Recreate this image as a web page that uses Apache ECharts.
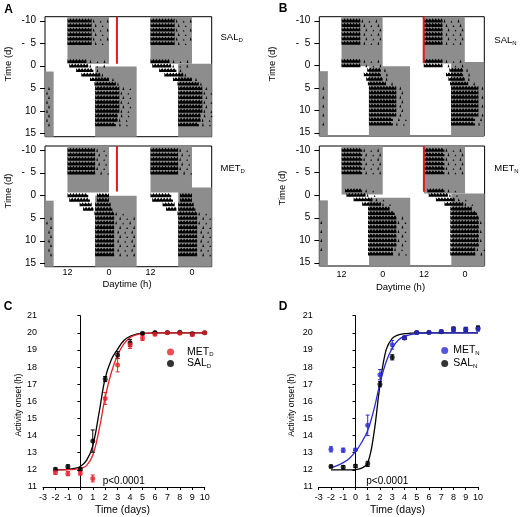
<!DOCTYPE html>
<html><head><meta charset="utf-8">
<script src="https://cdn.jsdelivr.net/npm/echarts@6/dist/echarts.min.js"></script>
<style>html,body{margin:0;padding:0;background:#fff}#c{width:523px;height:517px}</style>
</head><body><div id="c"></div>
<script>
// ---------- Actogram data (hours on a double-plotted axis, "12" = 0, "0" = 12) ----------
const actoDays = [-10,-9,-8,-7,-6,-5,-4,-3,-2,-1,0,1,2,3,4,5,6,7,8,9,10,11,12,13,14,15];
const actoTicks = [-10,-5,0,5,10,15];
const hourTicks = [0,12,24,36];
const hourLabels = ['12','0','12','0'];

const salD_on   = [0,0,0,0,0,0,null,null,null,0,0.5,2.5,4,6.5,7.8,8,8,8,8,8,8,8,8,8,null,null];
const salD_off  = [7,7,7,7,7,7,null,null,null,5.5,6,7.5,9.5,12,14,15,15,15,15,15,15,14.5,14.5,14,null,null];
const salD_tail = [12,12,12,12,12,12,null,null,null,12,12,10,12,14,16,19,19,19,19,19,19,19,19,19,null,null];

const metD_on   = [0,0,0,0,0,0,null,null,null,null,0,0.5,3.5,4.5,7.8,8,8,8,8,8,8,8,8,8,null,null];
const metD_off  = [8,8,8,8,8,8,null,null,null,null,6,6.5,7,7.5,13.5,13.5,13.5,13.5,13.5,13.5,13.5,13.5,13.5,13.5,null,null];
const metD_on2  = [null,null,null,null,null,null,null,null,null,null,8.5,8.5,8,8,null,null,null,null,null,null,null,null,null,null,null,null];
const metD_off2 = [null,null,null,null,null,null,null,null,null,null,12,12,12.5,13,null,null,null,null,null,null,null,null,null,null,null,null];
const metD_tail = [12,12,12,12,12,12,null,null,null,null,12,12,12.5,13,18,20,20,20,20,20,20,20,20,20,null,null];

const salN_on   = [0,0,0,0,0,0,null,null,null,0,0,7.5,6.5,7.2,7.7,8,8,8,8,8,8,8,8,8,null,null];
const salN_off  = [5.5,5.5,5.5,5.5,5.5,5.5,null,null,null,5.5,5.5,11.5,11.5,12,13,16,16,16,16,16,16,16,15,15,null,null];
const salN_tail = [12,12,12,12,12,12,null,null,null,12,12,14,14,14,15,19,19,19,19,19,19,19,19,19,null,null];

const metN_on   = [0,0,0,0,0,0,null,null,null,1,1.4,3.5,6,7.7,7.7,7.7,7.7,7.7,7.7,7.7,7.7,7.7,7.7,7.7,null,null];
const metN_off  = [6,6,6,6,6,6,null,null,null,6,7,9,11.5,14,15.5,16,16,16,16,16,16,16,15,15,null,null];
const metN_tail = [12,12,12,12,12,12,null,null,null,11,11,14,15,15,16,19,19,19,19,19,19,19,19,19,null,null];

// dark (grey) periods: [hourStart, hourEnd, dayStart, dayEnd]
const salD_dark = [[0,12,-10.85,-0.4],[24,36,-10.85,-0.4],[8,20,0.2,15.75],[-6.5,-4,1.3,15.75],[32,41.7,-0.4,15.75]];
const metD_dark = [[0,12,-10.85,-0.6],[24,36,-10.85,-0.6],[8,20,0.1,15.75],[-6.5,-4,1.2,15.75],[32,41.7,-1.7,15.75]];
const salN_dark = [[0,12,-10.85,0.2],[24,36,-10.85,-0.4],[8,20,0.2,15.75],[-6.5,-4,1.3,15.75],[32,41.7,-0.75,15.75]];
const metN_dark = [[0,12,-10.85,-0.1],[24,36,-10.85,-0.3],[8,20,0.6,15.75],[-6.5,-4,1.2,15.75],[32,41.7,-0.3,15.75]];

// injection marker (hour, dayTop, dayBottom)
const salD_mark = [14.3,-10.85,-0.4];
const metD_mark = [14.3,-10.85,-0.8];
const salN_mark = [24,-10.85,-0.5];
const metN_mark = [24,-10.85,-0.7];

// ---------- Activity onset data ----------
const onsetDays = [-2,-1,0,1,2,3,4,5,6,7,8,9,10];
const metD = [11.84,11.78,11.8,11.5,16.17,18.12,19.29,19.7,19.91,20.0,19.97,19.9,20.0];
const metDErr = [0.1,0.12,0.1,0.2,0.35,0.4,0.2,0.15,0.08,0.05,0.05,0.1,0.05];
const salD = [12.03,12.19,12.03,13.68,17.3,18.7,19.4,19.97,20.02,20.02,20.03,19.95,20.0];
const salDErr = [0.08,0.1,0.08,0.65,0.15,0.2,0.2,0.05,0.05,0.05,0.05,0.08,0.03];

const metN = [13.2,13.15,13.18,14.6,17.56,19.3,19.72,20.02,20.03,20.08,20.2,20.2,20.22];
const metNErr = [0.15,0.12,0.05,0.6,0.3,0.25,0.1,0.05,0.05,0.08,0.12,0.12,0.12];
const salN = [12.2,12.15,12.23,12.35,17.0,18.57,19.7,20.02,20.02,20.06,20.22,20.2,20.28];
const salNErr = [0.08,0.1,0.08,0.15,0.15,0.15,0.08,0.04,0.04,0.08,0.12,0.12,0.12];

const fitX = [-2,-1.5,-1,-0.5,0,0.5,1,1.5,2,2.5,3,3.5,4,4.5,5,6,7,8,9,10];
const fitSalD = [12.0,12.01,12.03,12.08,12.2,12.55,13.4,15.3,17.35,18.45,19.05,19.55,19.8,19.92,19.97,20,20,20,20,20];
const fitMetD = [12.0,12.0,12.01,12.03,12.08,12.25,12.85,14.3,16.25,17.7,18.7,19.35,19.72,19.88,19.95,20,20,20,20,20];
const fitMetN = [12.13,12.25,12.42,12.67,13.06,13.6,14.3,15.5,17.05,18.3,19.1,19.58,19.8,19.9,19.95,20,20,20,20,20];
const fitSalN = [12.0,12.0,12.0,12.0,12.02,12.1,12.4,14.1,16.95,19.0,19.68,19.88,19.95,19.98,20,20,20,20,20,20];

// ---------- helpers ----------
const FONT = "'Liberation Sans', Arial, sans-serif";
const X_MIN = -6.5, X_MAX = 41.7, Y_MIN = -10.85, Y_MAX = 15.75;
const RED = '#e8202a', BLUE = '#2a2ad2';
// actogram y axis runs downward: plotted value = -day
const negTicks = actoTicks.map(v => -v);

function clipPush(out, a, b, d, kind){
  const s = Math.max(a, X_MIN), e = Math.min(b, X_MAX);
  if (e > s) out.push([s, e, -d, kind]);
}
function actData(on, off, tail, on2, off2){
  const out = [];
  actoDays.forEach((d, i) => {
    const bands = [];
    if (on[i] != null) bands.push([on[i], off[i], 0]);
    if (on2 && on2[i] != null) bands.push([on2[i], off2[i], 0]);
    if (tail[i] != null && off[i] != null) {
      const tStart = (off2 && off2[i] != null) ? off2[i] : off[i];
      if (tail[i] > tStart) bands.push([tStart, tail[i], 1]);
    }
    bands.forEach(b => {
      clipPush(out, b[0], b[1], d, b[2]);
      clipPush(out, b[0] + 24, b[1] + 24, d, b[2]);
      clipPush(out, b[0] - 24, b[1] - 24, d, b[2]);
    });
  });
  return out;
}
const darkData = arr => arr.map(r => [r[0], r[1], -r[2], -r[3]]);
function darkItem(params, api){
  const a = api.coord([api.value(0), api.value(2)]);
  const b = api.coord([api.value(1), api.value(3)]);
  return {type:'rect', shape:{x:Math.min(a[0],b[0]), y:Math.min(a[1],b[1]),
    width:Math.abs(b[0]-a[0]), height:Math.abs(b[1]-a[1])}, style:{fill:'#8d8d8d'}};
}
function tickItem(params, api){
  const p = api.coord([X_MIN, api.value(1)]);
  const y = Math.round(p[1]) + 0.5;
  return {type:'line', shape:{x1:p[0]-5, y1:y, x2:p[0], y2:y}, style:{stroke:'#000', lineWidth:1}};
}
function actItem(params, api){
  const p1 = api.coord([api.value(0), api.value(2)]);
  const p2 = api.coord([api.value(1), api.value(2)]);
  const kind = api.value(3);
  const rowH = Math.abs(api.size([0,1])[1]);
  const base = p1[1] + rowH*0.42;
  if (kind === 0) {
    const pts = [[p1[0], base]];
    let i = 0;
    for (let x = p1[0]; x <= p2[0]; x += 1.5, i++) {
      pts.push([x, base - (i % 2 === 0 ? rowH*0.9 : rowH*0.45)]);
    }
    pts.push([p2[0], base - rowH*0.5]);
    pts.push([p2[0], base]);
    return {type:'polygon', shape:{points:pts}, style:{fill:'#000'}};
  }
  const kids = [];
  let i = 0;
  const off = (Math.round(p1[1]) % 3) * 2;
  for (let x = p1[0] + 2 + off; x <= p2[0]; x += 7, i++) {
    const h = (i % 2 === 0) ? rowH*0.75 : rowH*0.4;
    kids.push({type:'polygon', shape:{points:[[x-0.9,base],[x,base-h],[x+0.9,base]]}, style:{fill:'#000'}});
  }
  return {type:'group', children:kids};
}
function errItem(params, api){
  const x = api.value(0), y = api.value(1), e = api.value(2);
  const t = api.coord([x, y+e]), b = api.coord([x, y-e]);
  const c = api.visual('color');
  const st = {stroke:c, lineWidth:1};
  return {type:'group', children:[
    {type:'line', shape:{x1:t[0],y1:t[1],x2:b[0],y2:b[1]}, style:st},
    {type:'line', shape:{x1:t[0]-2,y1:t[1],x2:t[0]+2,y2:t[1]}, style:st},
    {type:'line', shape:{x1:b[0]-2,y1:b[1],x2:b[0]+2,y2:b[1]}, style:st}
  ]};
}
const zip = (xs, ys) => xs.map((x,i) => [x, ys[i]]);
const zip3 = (xs, ys, es) => xs.map((x,i) => [x, ys[i], es[i]]);

// ---------- axes ----------
function actoX(idx, showLabels, margin){
  return {type:'value', gridIndex:idx, min:X_MIN, max:X_MAX,
    axisLine:{show:false}, splitLine:{show:false},
    axisTick:{show:false},
    axisLabel:{show:showLabels, customValues:hourTicks, margin:margin,
      formatter:v => hourLabels[hourTicks.indexOf(v)] || '', color:'#000', fontSize:9, fontFamily:FONT}};
}
function actoY(idx){
  return {type:'value', gridIndex:idx, min:-Y_MAX, max:-Y_MIN,
    axisLine:{show:false}, splitLine:{show:false},
    axisTick:{show:false},
    axisLabel:{customValues:negTicks, margin:9, color:'#000', fontSize:10, fontFamily:FONT,
      formatter:v => { const d = -v; return d === -5 ? '-  5' : String(d === 0 ? 0 : d); }}};
}
function onsetX(idx){
  return {type:'value', gridIndex:idx, min:-3, max:10, interval:1,
    axisLine:{lineStyle:{color:'#000'}}, splitLine:{show:false},
    axisTick:{length:3, lineStyle:{color:'#000'}},
    axisLabel:{margin:6, color:'#000', fontSize:9, fontFamily:FONT}};
}
function onsetY(idx){
  return {type:'value', gridIndex:idx, min:11, max:21, interval:1,
    axisLine:{show:true, lineStyle:{color:'#000'}}, splitLine:{show:false},
    axisTick:{show:true, length:3, lineStyle:{color:'#000'}},
    axisLabel:{margin:6, color:'#000', fontSize:9, fontFamily:FONT}};
}

function actoSeries(idx, dark, acts, mark){
  return [
    {type:'custom', xAxisIndex:idx, yAxisIndex:idx, renderItem:darkItem, data:darkData(dark), silent:true, z:1},
    {type:'custom', xAxisIndex:idx, yAxisIndex:idx, renderItem:actItem, data:acts, silent:true, z:2},
    {type:'line', xAxisIndex:idx, yAxisIndex:idx, data:[[mark[0],-mark[1]],[mark[0],-mark[2]]],
      symbol:'none', lineStyle:{color:'#e31a1c', width:2}, silent:true, z:3},
    {type:'custom', xAxisIndex:idx, yAxisIndex:idx, renderItem:tickItem, clip:false,
      data:negTicks.map(v => [X_MIN, v]), silent:true, z:4}
  ];
}
function onsetSeries(idx, names, colors, vals, errs, fits){
  const s = [];
  for (let k = 0; k < 2; k++) {
    s.push({type:'line', name:names[k]+' fit', xAxisIndex:idx, yAxisIndex:idx, data:zip(fitX, fits[k]),
      smooth:0.4, symbol:'none', lineStyle:{color:colors[k], width:1.3}, silent:true, z:2});
    s.push({type:'custom', name:names[k]+' err', xAxisIndex:idx, yAxisIndex:idx, renderItem:errItem,
      data:zip3(onsetDays, vals[k], errs[k]), itemStyle:{color:colors[k]}, silent:true, z:3});
    s.push({type:'scatter', name:names[k], xAxisIndex:idx, yAxisIndex:idx, data:zip(onsetDays, vals[k]),
      symbol:'circle', symbolSize:5, itemStyle:{color:colors[k]}, z:4});
  }
  return s;
}

const subRich = {
  a:{fontSize:10.5, fontFamily:FONT, color:'#000', lineHeight:11, verticalAlign:'top'},
  s:{fontSize:6, fontFamily:FONT, color:'#000', lineHeight:6, padding:[5.5,0,0,0], verticalAlign:'bottom'}
};
const subFmt = n => { const p = n.split('_'); return '{a|' + p[0] + '}{s|' + p[1] + '}'; };
const subRichSmall = {
  a:{fontSize:9.5, fontFamily:FONT, color:'#000', lineHeight:11, verticalAlign:'top'},
  s:{fontSize:6, fontFamily:FONT, color:'#000', lineHeight:6, padding:[5.5,0,0,0], verticalAlign:'bottom'}
};

function txt(x, y, text, opt){
  return Object.assign({type:'text', x:x, y:y, style:Object.assign({text:text, fill:'#000',
    font:(opt && opt.font) || ('10px ' + FONT), textAlign:'center', textVerticalAlign:'middle'}, (opt && opt.style) || {})},
    (opt && opt.rotation != null) ? {rotation:opt.rotation} : {});
}

const option = {
  animation:false,
  backgroundColor:'#fff',
  grid:[
    {left:45, top:16.7, width:166.7, height:120, show:true, borderColor:'#000', borderWidth:1, backgroundColor:'transparent'},
    {left:45, top:146, width:166.7, height:120.7, show:true, borderColor:'#000', borderWidth:1, backgroundColor:'transparent'},
    {left:319.3, top:16.7, width:165, height:119.3, show:true, borderColor:'#000', borderWidth:1, backgroundColor:'transparent'},
    {left:319.3, top:146, width:165.3, height:120, show:true, borderColor:'#000', borderWidth:1, backgroundColor:'transparent'},
    {left:43, top:315.7, width:161.7, height:171.3},
    {left:318.7, top:315.7, width:159.3, height:171.3}
  ],
  xAxis:[actoX(0,false,2), actoX(1,true,1), actoX(2,false,2), actoX(3,true,4), onsetX(4), onsetX(5)],
  yAxis:[actoY(0), actoY(1), actoY(2), actoY(3), onsetY(4), onsetY(5)],
  legend:[
    {data:['MET_D','SAL_D'], left:167, top:346, padding:0, orient:'vertical', itemWidth:7, itemHeight:7, itemGap:0,
      icon:'circle', formatter:subFmt,
      textStyle:{rich:{a:Object.assign({}, subRich.a, {padding:[0,0,0,8]}), s:subRich.s}}},
    {data:['MET_N','SAL_N'], left:441.2, top:344.5, padding:0, orient:'vertical', itemWidth:7, itemHeight:7, itemGap:1.5,
      icon:'circle', formatter:subFmt, textStyle:{rich:subRich}}
  ],
  series:[].concat(
    actoSeries(0, salD_dark, actData(salD_on, salD_off, salD_tail), salD_mark),
    actoSeries(1, metD_dark, actData(metD_on, metD_off, metD_tail, metD_on2, metD_off2), metD_mark),
    actoSeries(2, salN_dark, actData(salN_on, salN_off, salN_tail), salN_mark),
    actoSeries(3, metN_dark, actData(metN_on, metN_off, metN_tail), metN_mark),
    onsetSeries(4, ['SAL_D','MET_D'], ['#000', RED], [salD, metD], [salDErr, metDErr], [fitSalD, fitMetD]),
    onsetSeries(5, ['SAL_N','MET_N'], ['#000', BLUE], [salN, metN], [salNErr, metNErr], [fitSalN, fitMetN])
  ),
  graphic:[
    txt(8.5, 9.5, 'A', {font:'bold 12px ' + FONT}),
    txt(283, 8.5, 'B', {font:'bold 12px ' + FONT}),
    txt(8, 307, 'C', {font:'bold 12px ' + FONT}),
    txt(283, 306.5, 'D', {font:'bold 12px ' + FONT}),
    txt(8, 64, 'Time (d)', {rotation:Math.PI/2, font:'9.5px ' + FONT}),
    txt(8.5, 191, 'Time (d)', {rotation:Math.PI/2, font:'9.5px ' + FONT}),
    txt(272, 64, 'Time (d)', {rotation:Math.PI/2, font:'9.5px ' + FONT}),
    txt(282, 188, 'Time (d)', {rotation:Math.PI/2, font:'9.5px ' + FONT}),
    txt(127, 284, 'Daytime (h)', {font:'9.5px ' + FONT}),
    txt(400.5, 287, 'Daytime (h)', {font:'9.5px ' + FONT}),
    {type:'text', x:220.5, y:32, style:{text:'{a|SAL}{s|D}', rich:subRichSmall}},
    {type:'text', x:220.5, y:163.5, style:{text:'{a|MET}{s|D}', rich:subRichSmall}},
    {type:'text', x:494.3, y:35, style:{text:'{a|SAL}{s|N}', rich:subRichSmall}},
    {type:'text', x:494.3, y:163, style:{text:'{a|MET}{s|N}', rich:subRichSmall}},
    txt(19, 405, 'Activity onset (h)', {rotation:Math.PI/2, font:'8.5px ' + FONT}),
    txt(291.3, 405, 'Activity onset (h)', {rotation:Math.PI/2, font:'8.5px ' + FONT}),
    txt(122.5, 510, 'Time (days)', {font:'10.5px ' + FONT}),
    txt(397.5, 510, 'Time (days)', {font:'10.5px ' + FONT}),
    txt(102.7, 481.5, 'p<0.0001', {font:'10px ' + FONT, style:{textAlign:'left'}}),
    txt(366.3, 481.5, 'p<0.0001', {font:'10px ' + FONT, style:{textAlign:'left'}})
  ]
};
echarts.init(document.getElementById('c'), null, {renderer:'canvas'}).setOption(option);
</script></body></html>
